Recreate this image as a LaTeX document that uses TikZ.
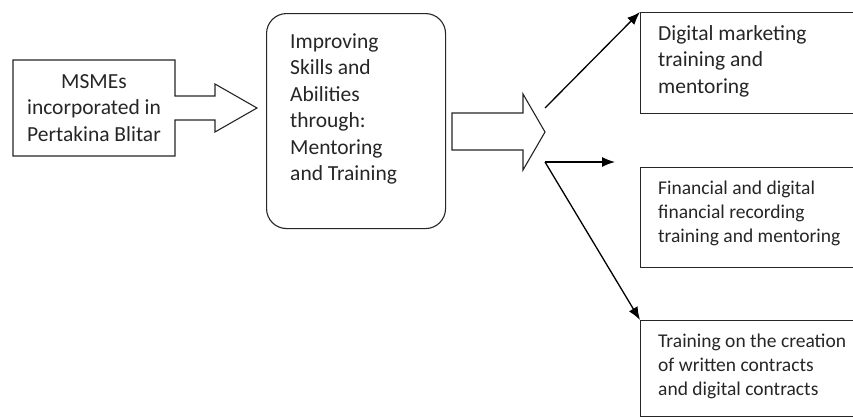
\documentclass[tikz,border=0pt]{standalone}
\usepackage{fontspec}
\setmainfont{Carlito}
\usepackage{tikz}
\usetikzlibrary{arrows.meta}

\tikzset{
  bigtext/.style={align=left, inner sep=0pt, text=black!85, font=\fontsize{21.5}{26.5}\selectfont},
  smalltext/.style={align=left, inner sep=0pt, text=black!85, font=\fontsize{19.5}{24}\selectfont},
  outline/.style={draw=black!85, line width=1.1pt},
  thinarrow/.style={line width=1.3pt, -{Latex[length=13pt,width=10pt]}}
}

\begin{document}
\begin{tikzpicture}[x=1pt, y=-1pt]
\clip (0,0) rectangle (853,418);
\fill[white] (0,0) rectangle (853,418);

% first block with its arrow
\draw[outline] (13,60) -- (175,60) -- (175,96) -- (215,96) -- (215,84) -- (257,108)
  -- (215,132) -- (215,120) -- (175,120) -- (175,156) -- (13,156) -- cycle;
\node[bigtext, align=center] (msme) at (94,108) {MSMEs\\incorporated in\\Pertakina Blitar};

% middle block
\node[outline, rounded corners=20pt, minimum width=179pt, minimum height=215pt, anchor=north west] (improve) at (266,13) {};
\node[bigtext, anchor=west] (improvetext) at (290,109) {Improving\\Skills and\\Abilities\\through:\\Mentoring\\and Training};

% big arrow
\draw[outline] (452,113) -- (523,113) -- (523,94) -- (545,132) -- (523,170) -- (523,150) -- (452,150) -- cycle;
\coordinate (split1) at (545,108);
\coordinate (split2) at (545,162);

% result boxes
\node[outline, minimum width=240pt, minimum height=101pt, anchor=north west] (marketing) at (640,12) {};
\node[bigtext, anchor=west] (marketingtext) at (658,61) {Digital marketing\\training and\\mentoring};

\node[outline, minimum width=240pt, minimum height=100pt, anchor=north west] (finance) at (640,167) {};
\node[smalltext, anchor=west] (financetext) at (658,213) {Financial and digital\\financial recording\\training and mentoring};

\node[outline, minimum width=240pt, minimum height=96pt, anchor=north west] (contract) at (640,320) {};
\node[smalltext, anchor=west] (contracttext) at (658,366) {Training on the creation\\of written contracts\\and digital contracts};

% thin arrows
\draw[thinarrow] (split1) -- (marketing.north west);
\draw[thinarrow] (split2) -- (615,162);
\draw[thinarrow] (split2) -- (contract.north west);
\end{tikzpicture}
\end{document}
